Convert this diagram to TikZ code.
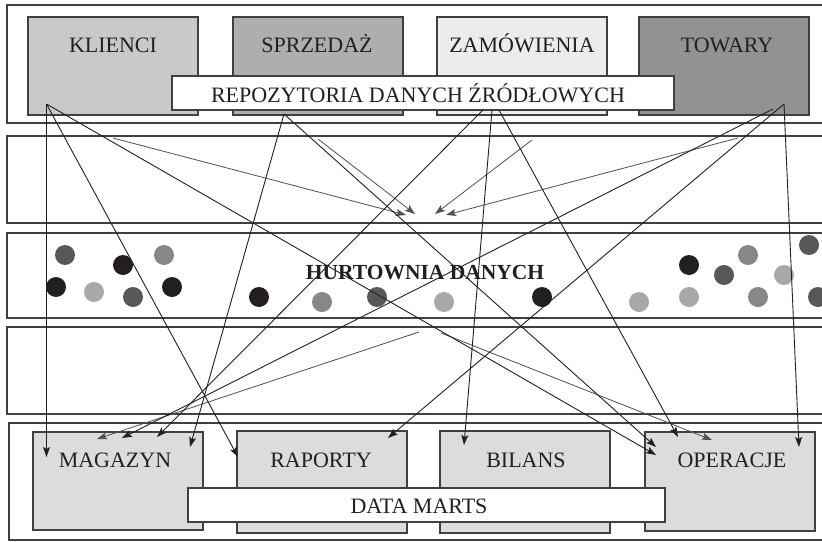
\documentclass[tikz,border=0pt]{standalone}
\usepackage{fontspec}
\setmainfont{Liberation Serif}
\usetikzlibrary{arrows.meta}

\definecolor{ink}{HTML}{231F20}
\definecolor{frame}{HTML}{404042}
\definecolor{klfill}{HTML}{C8C9CB}
\definecolor{spfill}{HTML}{AEAEB0}
\definecolor{zafill}{HTML}{ECECEC}
\definecolor{tofill}{HTML}{929295}
\definecolor{dmfill}{HTML}{DCDCDE}
\definecolor{arrgray}{HTML}{505052}
\definecolor{dotblack}{HTML}{231F20}
\definecolor{dotdark}{HTML}{58585A}
\definecolor{dotmid}{HTML}{87878A}
\definecolor{dotlight}{HTML}{A8A8AB}

\tikzset{
  band/.style={draw=frame, line width=1.3pt, fill=white},
  srcbox/.style={draw=frame, line width=1.1pt, minimum width=170pt, minimum height=98pt,
    inner sep=0pt, outer sep=0pt},
  labelbox/.style={draw=frame, line width=1.1pt, fill=white, inner sep=0pt, outer sep=0pt},
  boxtext/.style={text=ink, font=\fontsize{22}{24}\selectfont, inner sep=0pt, anchor=base},
  hubtext/.style={text=ink, font=\fontsize{21.5}{24}\selectfont\bfseries, inner sep=0pt, anchor=base},
  flow/.style={draw=ink, line width=0.9pt, -{Stealth[length=10pt,width=7pt,inset=2pt]}},
  feed/.style={draw=arrgray, line width=0.8pt, -{Stealth[length=10pt,width=7pt,inset=2pt]}},
}

\begin{document}
\begin{tikzpicture}[x=1pt,y=-1pt]
\useasboundingbox (0,0) rectangle (822,541);

% horizontal layers
\draw[band] (7,5) rectangle (828,123);
\draw[band] (7,136) rectangle (828,223);
\draw[band] (7,233) rectangle (828,318);
\draw[band] (7,327) rectangle (828,414);
\draw[band] (9,423) rectangle (828,540);

% source repositories
\node[srcbox, fill=klfill] (klienci) at (113,66) {};
\node[srcbox, fill=spfill] (sprzedaz) at (318,66) {};
\node[srcbox, fill=zafill] (zamowienia) at (522,66) {};
\node[srcbox, fill=tofill] (towary) at (724,66) {};
\node[labelbox, minimum width=502pt, minimum height=34pt] (repo) at (423,93) {};

\node[boxtext] (klienci-t) at (113,52) {KLIENCI};
\node[boxtext] (sprzedaz-t) at (317,52) {SPRZEDAŻ};
\node[boxtext] (zamowienia-t) at (522,52) {ZAMÓWIENIA};
\node[boxtext] (towary-t) at (727,52) {TOWARY};
\node[boxtext] (repo-t) at (418,102) {REPOZYTORIA DANYCH ŹRÓDŁOWYCH};

% data marts
\node[srcbox, fill=dmfill] (magazyn) at (118,481) {};
\node[srcbox, fill=dmfill, minimum height=102pt] (raporty) at (322,482) {};
\node[srcbox, fill=dmfill, minimum height=102pt] (bilans) at (525,482) {};
\node[srcbox, fill=dmfill, minimum height=99pt] (operacje) at (730,481.5) {};
\node[labelbox, minimum width=477pt, minimum height=34pt] (marts) at (426.5,505) {};

\node[boxtext] (magazyn-t) at (115,467) {MAGAZYN};
\node[boxtext] (raporty-t) at (321,467) {RAPORTY};
\node[boxtext] (bilans-t) at (526,467) {BILANS};
\node[boxtext] (operacje-t) at (732,467) {OPERACJE};
\node[boxtext] (marts-t) at (419,513) {DATA MARTS};

% warehouse contents
\foreach \x/\y/\c in {
  65/255/dotdark, 123/265/dotblack, 164/255/dotmid,
  56/287/dotblack, 94/292/dotlight, 133/297/dotdark, 172/287/dotblack,
  259/297/dotblack, 322/302/dotmid, 377/297/dotdark,
  444/302/dotlight, 542/297/dotblack, 639/302/dotlight,
  689/265/dotblack, 689/297/dotlight, 724/275/dotdark, 748/255/dotmid,
  784/275/dotlight, 758/297/dotmid, 809/245/dotdark, 818/297/dotdark}
  \fill[\c] (\x,\y) circle (10pt);

\node[hubtext] (hurtownia) at (425,279) {HURTOWNIA DANYCH};

% connector end points
\coordinate (kl-o) at (46.5,104);
\coordinate (sp-o) at (284,114);
\coordinate (za-o1) at (483,110);
\coordinate (za-o2) at (492,110);
\coordinate (za-o3) at (499,110);
\coordinate (to-o1) at (773,109);
\coordinate (to-o2) at (784,104);

\coordinate (ma-in1) at (46.5,457);
\coordinate (ma-in2) at (97,439);
\coordinate (ma-in3) at (122,438);
\coordinate (ma-in4) at (157,437);
\coordinate (ma-in5) at (190,447);
\coordinate (ra-in1) at (238,457);
\coordinate (ra-in2) at (388,438);
\coordinate (bi-in) at (464,445);
\coordinate (op-in1) at (656,447);
\coordinate (op-in2) at (656,455);
\coordinate (op-in3) at (678,437);
\coordinate (op-in4) at (712,440);
\coordinate (op-in5) at (799,447);

% loading into the warehouse
\coordinate (ld1) at (113,138);
\coordinate (ld2) at (318,139);
\coordinate (ld3) at (532,140);
\coordinate (ld4) at (738,138);
\coordinate (hw1) at (406,215);
\coordinate (hw2) at (415,214);
\coordinate (hw3) at (435,214);
\coordinate (hw4) at (446,215);
\coordinate (ex1) at (419,332);
\coordinate (ex2) at (441,333);

\draw[feed] (ld1) -- (hw1);
\draw[feed] (ld2) -- (hw2);
\draw[feed] (ld3) -- (hw3);
\draw[feed] (ld4) -- (hw4);
\draw[feed] (ex1) -- (ma-in2);
\draw[feed] (ex2) -- (op-in4);

% direct flows from sources to marts
\draw[flow] (kl-o) -- (ma-in1);
\draw[flow] (kl-o) -- (ra-in1);
\draw[flow] (kl-o) -- (op-in2);
\draw[flow] (sp-o) -- (ma-in5);
\draw[flow] (sp-o) -- (op-in1);
\draw[flow] (za-o1) -- (ma-in4);
\draw[flow] (za-o2) -- (bi-in);
\draw[flow] (za-o3) -- (op-in3);
\draw[flow] (to-o1) -- (ma-in3);
\draw[flow] (to-o2) -- (ra-in2);
\draw[flow] (to-o2) -- (op-in5);
\end{tikzpicture}
\end{document}
